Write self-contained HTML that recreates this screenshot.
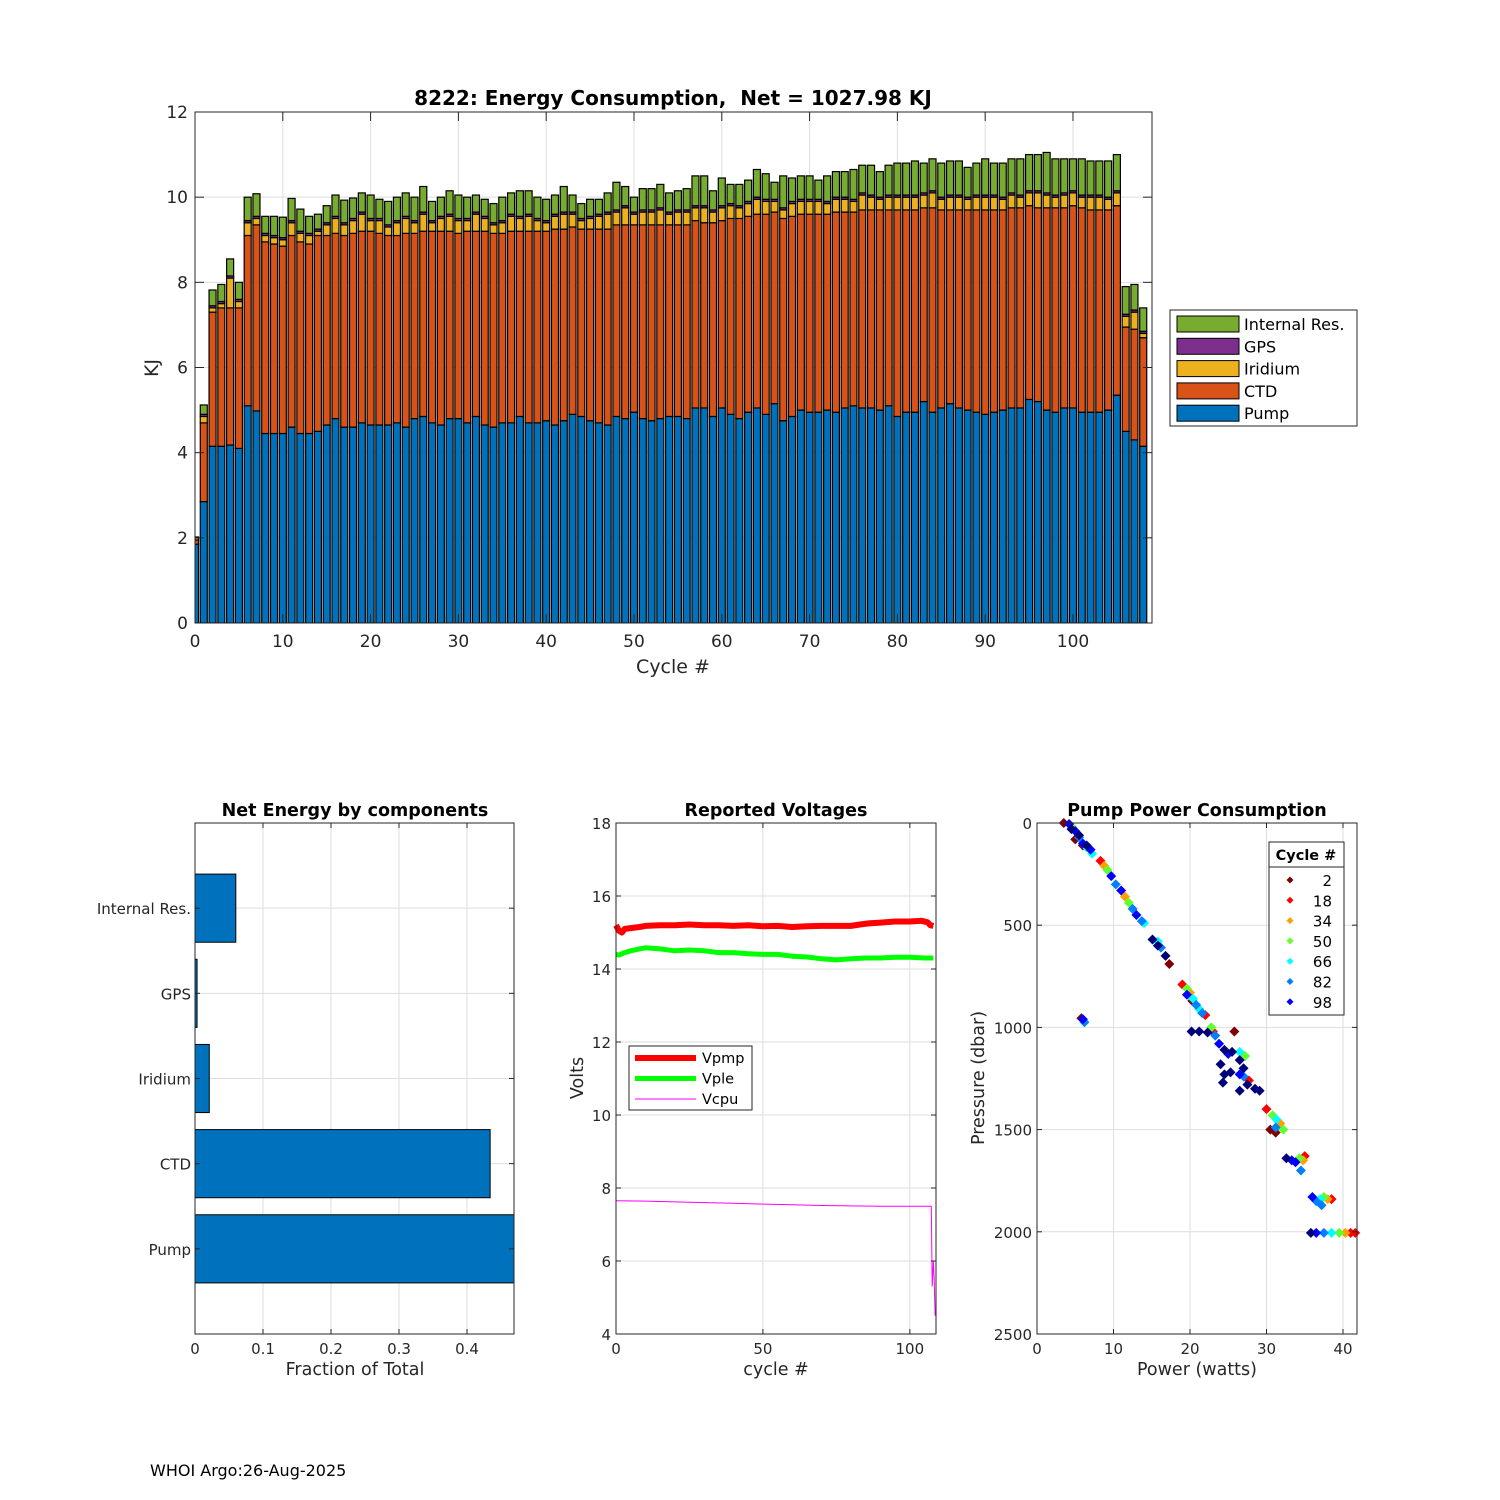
<!DOCTYPE html>
<html><head><meta charset="utf-8">
<style>
html,body{margin:0;padding:0;background:#fff;}
svg{display:block;font-family:"DejaVu Sans","Liberation Sans",sans-serif;}
</style></head>
<body>
<svg id="fig" width="1500" height="1500" viewBox="0 0 1500 1500"></svg>
<script>
// ---------- Energy bar chart data (cycles 0..108) ----------
const cycles = [];
for (let i = 0; i <= 108; i++) cycles.push(i);
const pumpE = [1.85,2.85,4.15,4.15,4.18,4.1,5.1,4.98,4.45,4.45,4.45,4.6,4.45,4.45,4.5,4.65,4.8,4.6,4.6,4.7,4.65,
4.65,4.65,4.7,4.6,4.8,4.85,4.7,4.65,4.8,4.8,4.7,4.85,4.65,4.6,4.7,4.7,4.85,4.7,4.7,4.75,
4.65,4.75,4.9,4.85,4.75,4.7,4.65,4.85,4.8,4.95,4.8,4.75,4.8,4.85,4.85,4.8,5.05,5.05,4.85,5.05,
4.9,4.8,4.95,5.05,4.9,5.15,4.75,4.85,5.0,4.95,4.95,5.0,4.95,5.05,5.1,5.05,5.05,5.0,5.1,4.85,
4.95,4.95,5.2,4.95,5.05,5.15,5.05,5.0,4.95,4.9,4.95,5.0,5.05,5.05,5.25,5.2,5.0,4.95,5.05,5.05,
4.95,4.95,4.95,5.0,5.35,4.5,4.3,4.15];
const ctdE = [0.1,1.85,3.15,3.25,3.22,3.3,4.0,4.37,4.5,4.45,4.4,4.5,4.5,4.45,4.6,4.45,4.35,4.5,4.55,4.5,4.55,
4.5,4.45,4.4,4.55,4.35,4.35,4.5,4.55,4.4,4.35,4.5,4.35,4.55,4.55,4.45,4.5,4.35,4.5,4.5,4.45,
4.6,4.5,4.4,4.4,4.5,4.55,4.6,4.5,4.55,4.4,4.55,4.6,4.55,4.5,4.5,4.55,4.4,4.35,4.55,4.4,
4.6,4.7,4.6,4.55,4.7,4.5,4.75,4.7,4.6,4.65,4.65,4.6,4.7,4.6,4.55,4.65,4.65,4.7,4.6,4.85,
4.75,4.75,4.55,4.8,4.65,4.55,4.65,4.7,4.75,4.8,4.75,4.7,4.7,4.7,4.55,4.55,4.75,4.8,4.7,4.75,
4.8,4.75,4.75,4.7,4.45,2.45,2.6,2.55];
const iridE = [0.05,0.15,0.1,0.1,0.7,0.15,0.3,0.15,0.15,0.15,0.15,0.3,0.2,0.2,0.1,0.25,0.35,0.25,0.3,0.4,0.25,
0.3,0.2,0.3,0.35,0.25,0.4,0.2,0.3,0.35,0.3,0.25,0.4,0.3,0.2,0.25,0.35,0.3,0.35,0.25,0.2,
0.3,0.35,0.3,0.2,0.25,0.3,0.35,0.3,0.4,0.25,0.3,0.3,0.35,0.25,0.3,0.3,0.3,0.35,0.25,0.3,
0.3,0.25,0.3,0.35,0.3,0.25,0.2,0.3,0.3,0.3,0.3,0.25,0.3,0.3,0.25,0.35,0.3,0.25,0.3,0.3,
0.3,0.3,0.3,0.35,0.25,0.3,0.3,0.25,0.3,0.3,0.3,0.25,0.3,0.25,0.3,0.35,0.3,0.25,0.3,0.3,
0.25,0.3,0.3,0.25,0.3,0.25,0.4,0.1];
const gpsE = [0.02,0.05,0.05,0.05,0.05,0.05,0.05,0.05,0.05,0.05,0.05,0.05,0.05,0.05,0.05,0.05,0.05,0.05,0.05,0.05,0.05,
0.05,0.05,0.05,0.05,0.05,0.05,0.05,0.05,0.05,0.05,0.05,0.05,0.05,0.05,0.05,0.05,0.05,0.05,0.05,0.05,
0.05,0.05,0.05,0.05,0.05,0.05,0.05,0.05,0.05,0.05,0.05,0.05,0.05,0.05,0.05,0.05,0.05,0.05,0.05,0.05,
0.05,0.05,0.05,0.05,0.05,0.05,0.05,0.05,0.05,0.05,0.05,0.05,0.05,0.05,0.05,0.05,0.05,0.05,0.05,0.05,
0.05,0.05,0.05,0.05,0.05,0.05,0.05,0.05,0.05,0.05,0.05,0.05,0.05,0.05,0.05,0.05,0.05,0.05,0.05,0.05,
0.05,0.05,0.05,0.05,0.05,0.05,0.05,0.05];
const intE = [0.0,0.22,0.37,0.4,0.4,0.4,0.55,0.53,0.4,0.45,0.48,0.52,0.52,0.4,0.35,0.4,0.5,0.53,0.48,0.45,0.55,
0.45,0.55,0.55,0.55,0.55,0.6,0.45,0.45,0.55,0.55,0.5,0.4,0.4,0.45,0.55,0.5,0.6,0.55,0.5,0.5,
0.45,0.6,0.4,0.35,0.4,0.35,0.45,0.65,0.45,0.35,0.5,0.5,0.55,0.45,0.45,0.5,0.7,0.7,0.45,0.65,
0.45,0.5,0.5,0.65,0.6,0.4,0.75,0.55,0.55,0.55,0.45,0.6,0.6,0.6,0.7,0.65,0.7,0.6,0.7,0.75,
0.75,0.8,0.7,0.75,0.8,0.8,0.8,0.7,0.75,0.85,0.75,0.8,0.8,0.85,0.85,0.85,0.95,0.85,0.8,0.75,
0.85,0.8,0.8,0.85,0.85,0.65,0.6,0.55];
const energyYTicks = [0,2,4,6,8,10,12];
const energyXTicks = [0,10,20,30,40,50,60,70,80,90,100];
const legendNames = ["Internal Res.","GPS","Iridium","CTD","Pump"];

// ---------- Fractions ----------
const fracCats = ["Pump","CTD","Iridium","GPS","Internal Res."];
const fracVals = [0.478,0.434,0.021,0.003,0.06];
const fracXTicks = [0,0.1,0.2,0.3,0.4];

// ---------- Voltages ----------
const vpmpX = [0,1,2,3,5,8,10,15,20,25,30,35,40,45,50,55,60,65,70,75,80,83,86,90,95,100,104,106,107,108];
const vpmpY = [15.2,15.05,15.0,15.1,15.12,15.15,15.18,15.2,15.2,15.22,15.2,15.2,15.18,15.2,15.17,15.18,15.15,15.17,15.18,15.18,15.18,15.22,15.25,15.27,15.3,15.3,15.32,15.28,15.2,15.18];
const vpleX = [0,1,3,5,8,10,15,20,25,30,35,40,45,50,55,60,65,70,75,80,85,90,95,100,105,108];
const vpleY = [14.4,14.38,14.45,14.5,14.55,14.58,14.55,14.5,14.52,14.5,14.45,14.45,14.42,14.4,14.4,14.35,14.33,14.28,14.25,14.28,14.3,14.3,14.32,14.32,14.3,14.3];
const vcpuX = [0,10,20,30,40,50,60,70,80,90,100,106,107.3,107.6,108,108.3,108.6];
const vcpuY = [7.65,7.64,7.62,7.6,7.58,7.56,7.54,7.52,7.51,7.5,7.5,7.5,7.5,5.3,6.0,5.5,4.5];
const voltYTicks = [4,6,8,10,12,14,16,18];
const voltXTicks = [0,50,100];

// ---------- Pump power scatter ----------
const ppW = [3.5,4.2,4.6,5,5.5,6,6.5,7.2,5,6,4.5,5.5,6.5,7,
8.3,8.8,9.2,9.7,10.3,11,11.5,12,12.5,13,13.7,14,
15.1,15.8,16.2,16.8,17.3,15.8,
19,19.6,20,20.4,20.8,21.2,21.6,22,19.6,20.3,
20.2,21.2,22.3,22.8,23.3,23.8,24.5,25,25.5,25.8,26.5,27.2,24,24.5,25.3,24.3,26.5,27,27,27.5,28.5,29.1,26.5,27.7,26.5,23,
30,30.8,31.3,31.8,31.2,30.5,31.2,32.2,
32.6,33.3,33.8,34.3,34.8,35,34.5,
36,36.5,37,37.5,38,38.5,37.2,
35.8,36.5,37.5,38.5,39.5,40.3,41,41.6,
5.8,6.2,6];
const ppP = [0,5,20,40,70,100,120,150,80,110,30,60,110,130,
185,210,230,260,300,330,360,390,420,450,480,490,
570,580,610,650,690,600,
790,810,830,860,890,910,930,940,840,870,
1020,1020,1025,1000,1040,1080,1110,1130,1120,1020,1120,1140,1180,1230,1220,1270,1160,1200,1240,1280,1300,1310,1310,1260,1230,1020,
1400,1430,1450,1470,1490,1500,1515,1500,
1640,1650,1660,1640,1650,1630,1700,
1830,1850,1840,1830,1840,1840,1870,
2005,2005,2005,2005,2005,2005,2005,2005,
955,975,960];
const ppC = [2,98,50,98,82,98,66,66,2,2,108,108,108,98,
18,34,50,98,82,98,34,50,82,98,82,66,
108,66,82,108,2,108,
18,50,34,66,82,66,82,18,98,2,
108,108,108,50,82,98,108,98,108,2,66,50,108,108,108,108,108,108,82,108,108,108,108,18,98,18,
18,50,66,34,82,2,2,50,
108,98,98,50,34,18,82,
98,82,66,50,34,18,82,
108,98,82,66,50,34,18,18,
2,82,98];
const ppLegendCycles = [2,18,34,50,66,82,98];
const ppXTicks = [0,10,20,30,40];
const ppYTicks = [0,500,1000,1500,2000,2500];

// ---------- helpers ----------
const NS = "http://www.w3.org/2000/svg";
const svg = document.getElementById("fig");
function el(tag, attrs, parent) {
  const e = document.createElementNS(NS, tag);
  for (const k in attrs) e.setAttribute(k, attrs[k]);
  (parent || svg).appendChild(e);
  return e;
}
function txt(s, x, y, size, anchor, parent, extra) {
  const t = el("text", Object.assign({x:x, y:y, "font-size":size, "text-anchor":anchor||"middle", fill:"#262626"}, extra||{}), parent);
  t.textContent = s;
  return t;
}
function lin(d0, d1, p0, p1) { return v => p0 + (v - d0) / (d1 - d0) * (p1 - p0); }
const GRID = "#dedede", AX = "#262626";

function axesBox(g, L, T, R, B) {
  const b = el("rect", {x:L, y:T, width:R-L, height:B-T, fill:"none", stroke:AX, "stroke-width":1}, g);
  
  
}

// ========== TOP: Energy consumption ==========
(function(){
  const L=195,T=112,R=1152,B=623;
  const X = lin(0,109,L,R), Y = lin(0,12,B,T);
  const g = el("g", {});
  
  
  energyXTicks.forEach(v => el("line",{x1:X(v),x2:X(v),y1:T,y2:B,stroke:GRID,"stroke-width":1},g));
  energyYTicks.forEach(v => el("line",{x1:L,x2:R,y1:Y(v),y2:Y(v),stroke:GRID,"stroke-width":1},g));
  const cols = ["#0072BD","#D95319","#EDB120","#7E2F8E","#77AC30"];
  const series = [pumpE, ctdE, iridE, gpsE, intE];
  const bw = (X(0.8) - X(0));
  const clip = el("clipPath",{id:"cTop"},g);
  el("rect",{x:L,y:T,width:R-L,height:B-T},clip);
  const bars = el("g",{"clip-path":"url(#cTop)"},g);
  cycles.forEach((c,i) => {
    let base = 0;
    series.forEach((s,k) => {
      const v = s[i];
      const r = el("rect",{x:X(c)-bw/2, y:Y(base+v), width:bw, height:Math.max(0,Y(base)-Y(base+v)), fill:cols[k], stroke:"#000", "stroke-width":1.2}, bars);
      
      
      base += v;
    });
  });
  axesBox(g,L,T,R,B);
  energyXTicks.forEach(v => {
    el("line",{x1:X(v),x2:X(v),y1:B,y2:B-9,stroke:AX},g);
    el("line",{x1:X(v),x2:X(v),y1:T,y2:T+9,stroke:AX},g);
    const t = txt(String(v), X(v), B+24, 17, "middle", g);
    
    
  });
  energyYTicks.forEach(v => {
    el("line",{x1:L,x2:L+9,y1:Y(v),y2:Y(v),stroke:AX},g);
    el("line",{x1:R,x2:R-9,y1:Y(v),y2:Y(v),stroke:AX},g);
    const t = txt(String(v), L-7, Y(v)+6, 17, "end", g);
    
    
  });
  const ti = txt("8222: Energy Consumption,  Net = 1027.98 KJ", 673, 105, 20, "middle", g, {"font-weight":"bold", fill:"#000", "xml:space":"preserve", style:"white-space:pre"});
  
  
  const xl = txt("Cycle #", 673, 673, 19, "middle", g);
  
  
  const yl = txt("KJ", 0, 0, 19, "middle", g, {transform:"translate(158,368) rotate(-90)"});
  
  
  // legend
  const lg = el("g",{},g);
  
  
  el("rect",{x:1170,y:310,width:187,height:116,fill:"#fff",stroke:AX},lg);
  const lcols = [cols[4],cols[3],cols[2],cols[1],cols[0]];
  legendNames.forEach((n,i) => {
    const yy = 324 + i*22.3;
    el("rect",{x:1177,y:yy-8,width:62,height:16,fill:lcols[i],stroke:"#000","stroke-width":1},lg);
    const t = txt(n, 1244, yy+6, 16, "start", lg, {fill:"#000"});
    
    
  });
})();

// ========== Fraction chart ==========
(function(){
  const L=195,T=823,R=514,B=1334;
  const X = lin(0,0.4691,L,R), Y = lin(0,6,B,T);
  const g = el("g",{});
  
  
  fracXTicks.forEach(v => el("line",{x1:X(v),x2:X(v),y1:T,y2:B,stroke:GRID},g));
  fracCats.forEach((c,i) => el("line",{x1:L,x2:R,y1:Y(i+1),y2:Y(i+1),stroke:GRID},g));
  const clip = el("clipPath",{id:"cFrac"},g);
  el("rect",{x:L,y:T,width:R-L,height:B-T},clip);
  const bg = el("g",{"clip-path":"url(#cFrac)"},g);
  fracCats.forEach((c,i) => {
    const r = el("rect",{x:X(0),y:Y(i+1.4),width:X(fracVals[i])-X(0),height:Y(i+0.6)-Y(i+1.4),fill:"#0072BD",stroke:"#000","stroke-width":1},bg);
    
    
  });
  axesBox(g,L,T,R,B);
  fracXTicks.forEach(v => {
    el("line",{x1:X(v),x2:X(v),y1:B,y2:B-5,stroke:AX},g);
    el("line",{x1:X(v),x2:X(v),y1:T,y2:T+5,stroke:AX},g);
    const t = txt(String(v), X(v), B+20, 15, "middle", g);
    
    
  });
  fracCats.forEach((c,i) => {
    el("line",{x1:L,x2:L+5,y1:Y(i+1),y2:Y(i+1),stroke:AX},g);
    el("line",{x1:R,x2:R-5,y1:Y(i+1),y2:Y(i+1),stroke:AX},g);
    const t = txt(c, L-4, Y(i+1)+6, 15, "end", g);
    
    
  });
  const ti = txt("Net Energy by components", 355, 816, 17.5, "middle", g, {"font-weight":"bold", fill:"#000"});
  
  
  const xl = txt("Fraction of Total", 355, 1375, 17.5, "middle", g);
  
  
})();

// ========== Voltages ==========
(function(){
  const L=616,T=823,R=936,B=1334;
  const X = lin(0,108.9,L,R), Y = lin(4,18,B,T);
  const g = el("g",{});
  
  
  voltXTicks.forEach(v => el("line",{x1:X(v),x2:X(v),y1:T,y2:B,stroke:GRID},g));
  voltYTicks.forEach(v => el("line",{x1:L,x2:R,y1:Y(v),y2:Y(v),stroke:GRID},g));
  function path(xs, ys){ return xs.map((x,i)=>(i?"L":"M")+X(x).toFixed(1)+","+Y(ys[i]).toFixed(1)).join(""); }
  const p1 = el("path",{d:path(vpmpX,vpmpY),fill:"none",stroke:"#ff0000","stroke-width":6,"stroke-linejoin":"round"},g);
  
  
  const p2 = el("path",{d:path(vpleX,vpleY),fill:"none",stroke:"#00ff00","stroke-width":5,"stroke-linejoin":"round"},g);
  
  
  const p3 = el("path",{d:path(vcpuX,vcpuY),fill:"none",stroke:"#ff00ff","stroke-width":1},g);
  
  
  axesBox(g,L,T,R,B);
  voltXTicks.forEach(v => {
    el("line",{x1:X(v),x2:X(v),y1:B,y2:B-5,stroke:AX},g);
    el("line",{x1:X(v),x2:X(v),y1:T,y2:T+5,stroke:AX},g);
    const t = txt(String(v), X(v), B+20, 15, "middle", g);
    
    
  });
  voltYTicks.forEach(v => {
    el("line",{x1:L,x2:L+5,y1:Y(v),y2:Y(v),stroke:AX},g);
    el("line",{x1:R,x2:R-5,y1:Y(v),y2:Y(v),stroke:AX},g);
    const t = txt(String(v), L-5, Y(v)+6, 15, "end", g);
    
    
  });
  const ti = txt("Reported Voltages", 776, 816, 17.5, "middle", g, {"font-weight":"bold", fill:"#000"});
  
  
  const xl = txt("cycle #", 776, 1375, 17.5, "middle", g);
  
  
  const yl = txt("Volts", 0, 0, 17.5, "middle", g, {transform:"translate(583,1078) rotate(-90)"});
  
  
  const lg = el("g",{},g);
  
  
  el("rect",{x:629,y:1046,width:123,height:64,fill:"#fff",stroke:AX},lg);
  [["Vpmp","#ff0000",6],["Vple","#00ff00",5],["Vcpu","#ff00ff",1]].forEach((e,i) => {
    const yy = 1058 + i*20.5;
    el("line",{x1:635,x2:696,y1:yy,y2:yy,stroke:e[1],"stroke-width":e[2]},lg);
    const t = txt(e[0], 702, yy+5, 14.5, "start", lg, {fill:"#000"});
    
    
  });
})();

// ========== Pump power scatter ==========
(function(){
  const L=1037,T=823,R=1357,B=1334;
  const X = lin(0,41.83,L,R), Y = lin(0,2500,T,B);
  const g = el("g",{});
  
  
  ppXTicks.forEach(v => el("line",{x1:X(v),x2:X(v),y1:T,y2:B,stroke:GRID},g));
  ppYTicks.forEach(v => el("line",{x1:L,x2:R,y1:Y(v),y2:Y(v),stroke:GRID},g));
  const stopsC = [2,18,34,50,66,82,98,110];
  const stopsRGB = [[128,0,0],[255,0,0],[255,160,0],[96,255,48],[0,255,255],[0,128,255],[0,0,255],[0,0,96]];
  function colOf(c){
    for (let k=0;k<stopsC.length-1;k++){
      if (c<=stopsC[k+1]){
        const t = Math.max(0,(c-stopsC[k])/(stopsC[k+1]-stopsC[k]));
        const a=stopsRGB[k], b=stopsRGB[k+1];
        return "rgb("+a.map((v,j)=>Math.round(v+(b[j]-v)*t)).join(",")+")";
      }
    }
    return "rgb(0,0,96)";
  }
  function diamond(x,y,s){ return "M"+x+","+(y-s)+"L"+(x+s)+","+y+"L"+x+","+(y+s)+"L"+(x-s)+","+y+"Z"; }
  const clip = el("clipPath",{id:"cPP"},g);
  el("rect",{x:L,y:T-5,width:R-L+6,height:B-T+5},clip);
  const pg = el("g",{"clip-path":"url(#cPP)"},g);
  const order = ppC.map((c,i)=>i).sort((a,b)=>ppC[a]-ppC[b]);
  order.forEach(i => {
    const p = el("path",{d:diamond(X(ppW[i]),Y(ppP[i]),5),fill:colOf(ppC[i])},pg);
    
    
  });
  axesBox(g,L,T,R,B);
  ppXTicks.forEach(v => {
    el("line",{x1:X(v),x2:X(v),y1:B,y2:B-5,stroke:AX},g);
    el("line",{x1:X(v),x2:X(v),y1:T,y2:T+5,stroke:AX},g);
    const t = txt(String(v), X(v), B+20, 15, "middle", g);
    
    
  });
  ppYTicks.forEach(v => {
    el("line",{x1:L,x2:L+5,y1:Y(v),y2:Y(v),stroke:AX},g);
    el("line",{x1:R,x2:R-5,y1:Y(v),y2:Y(v),stroke:AX},g);
    const t = txt(String(v), L-5, Y(v)+6, 15, "end", g);
    
    
  });
  const ti = txt("Pump Power Consumption", 1197, 816, 17.5, "middle", g, {"font-weight":"bold", fill:"#000"});
  
  
  const xl = txt("Power (watts)", 1197, 1375, 17.5, "middle", g);
  
  
  const yl = txt("Pressure (dbar)", 0, 0, 17.5, "middle", g, {transform:"translate(984,1078) rotate(-90)"});
  
  
  const lg = el("g",{},g);
  
  
  el("rect",{x:1269,y:842,width:75,height:173,fill:"#fff",stroke:AX},lg);
  el("line",{x1:1269,x2:1344,y1:867,y2:867,stroke:AX},lg);
  const lt = txt("Cycle #", 1306, 860, 14.5, "middle", lg, {"font-weight":"bold", fill:"#000"});
  
  
  ppLegendCycles.forEach((c,i) => {
    const yy = 880 + i*20.3;
    el("path",{d:diamond(1290,yy,3.5),fill:colOf(c)},lg);
    const t = txt(String(c), 1332, yy+6, 15, "end", lg, {fill:"#000"});
    
    
  });
})();

const foot = txt("WHOI Argo:26-Aug-2025", 150, 1476, 16, "start", svg, {fill:"#000"});


</script>
</body></html>
